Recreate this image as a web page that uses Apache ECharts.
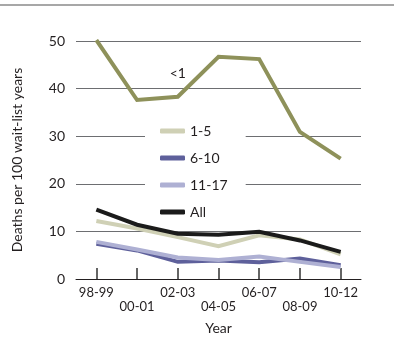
<!DOCTYPE html>
<html>
<head>
<meta charset="utf-8">
<script src="https://cdn.jsdelivr.net/npm/echarts@6/dist/echarts.min.js"></script>
<style>
  html, body { margin: 0; padding: 0; background: #fff; }
  #chart { width: 394px; height: 339px; }
</style>
</head>
<body>
<div id="chart"></div>
<script>
// Waiting-list mortality by age group
const years = ['98-99', '00-01', '02-03', '04-05', '06-07', '08-09', '10-12'];
const yTicks = [0, 10, 20, 30, 40, 50];

const underOne = [50.2, 37.6, 38.3, 46.7, 46.2, 30.9, 25.3];
const age1to5 = [12.2, 10.6, 8.8, 6.9, 9.2, 8.3, 5.2];
const age6to10 = [7.4, 6.0, 3.6, 3.9, 3.5, 4.3, 2.9];
const age11to17 = [7.8, 6.2, 4.5, 4.0, 4.7, 3.6, 2.5];
const allAges = [14.6, 11.4, 9.5, 9.3, 9.9, 8.1, 5.7];

const FONT = 'Lato, "Open Sans", sans-serif';
const TEXT = '#231f20';

const chart = echarts.init(document.getElementById('chart'));

function lineSeries(name, data, color, z) {
  return {
    name: name,
    type: 'line',
    data: data,
    symbol: 'none',
    z: z,
    lineStyle: { color: color, width: 4, cap: 'butt', join: 'miter' },
    itemStyle: { color: color }
  };
}

// The infant series carries its "<1" tag above the 02-03 point
const olive = lineSeries('<1', underOne, '#8e915a', 3);
olive.symbol = 'circle';
olive.symbolSize = 0;
olive.showSymbol = true;
olive.labelLayout = { hideOverlap: false };
olive.data = underOne.map((v, i) => i === 2 ? {
  value: v,
  label: {
    show: true, position: 'top', distance: 16,
    formatter: () => '<1', color: TEXT, fontFamily: FONT, fontSize: 14
  }
} : v);

chart.setOption({
  animation: false,
  grid: { left: 76, right: 33, top: 41, bottom: 60, outerBoundsMode: 'none' },
  graphic: [{
    type: 'line',
    shape: { x1: 0, y1: 5, x2: 394, y2: 5 },
    style: { stroke: '#8a8a8a', lineWidth: 1.5 }
  }],
  legend: {
    data: ['1-5', '6-10', '11-17', 'All'],
    orient: 'vertical',
    left: 145,
    top: 119,
    padding: [4, 18, 4, 15],
    backgroundColor: '#ffffff',
    icon: 'roundRect',
    itemWidth: 25,
    itemHeight: 5,
    itemGap: 11,
    textStyle: { color: TEXT, fontFamily: FONT, fontSize: 14, lineHeight: 16 }
  },
  xAxis: {
    type: 'category',
    data: years,
    name: 'Year',
    nameLocation: 'middle',
    nameGap: 42,
    nameTextStyle: { color: TEXT, fontFamily: FONT, fontSize: 14 },
    axisLine: { lineStyle: { color: '#231f20', width: 1 } },
    axisTick: {
      show: true, alignWithLabel: true, inside: true, length: 11,
      lineStyle: { color: '#333333', width: 1.5 }
    },
    axisLabel: {
      color: TEXT, fontFamily: FONT, fontSize: 13, margin: 7, lineHeight: 14,
      interval: 0,
      formatter: (v, i) => (i % 2 === 1 ? '\n' + v : v)
    }
  },
  yAxis: {
    type: 'value',
    min: yTicks[0],
    max: yTicks[yTicks.length - 1],
    interval: 10,
    name: 'Deaths per 100 wait-list years',
    nameLocation: 'middle',
    nameGap: 52,
    nameTextStyle: { color: TEXT, fontFamily: FONT, fontSize: 14 },
    axisLabel: { color: TEXT, fontFamily: FONT, fontSize: 14, margin: 11 },
    splitLine: { lineStyle: { color: '#6d6e71', width: 1 } }
  },
  series: [
    olive,
    lineSeries('1-5', age1to5, '#cfd0b5', 4),
    lineSeries('6-10', age6to10, '#5e609b', 5),
    lineSeries('11-17', age11to17, '#aeb0d3', 6),
    lineSeries('All', allAges, '#1b1b1b', 7)
  ]
});
</script>
</body>
</html>
